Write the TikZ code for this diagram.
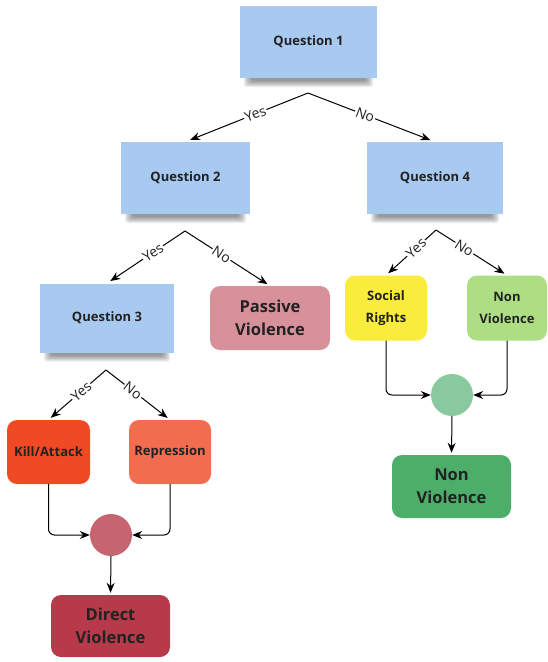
\documentclass[tikz,border=0pt]{standalone}
\usepackage{fontspec}
\setmainfont{Open Sans}
\usetikzlibrary{arrows.meta}
\pgfdeclarelayer{bg}
\pgfsetlayers{bg,main}
\definecolor{noteblue}{HTML}{A8CAF1}
\definecolor{txt}{HTML}{222222}
\definecolor{passive}{HTML}{D6919B}
\definecolor{social}{HTML}{F9EC3C}
\definecolor{nonv}{HTML}{AEDE84}
\definecolor{gcirc}{HTML}{88C99E}
\definecolor{nonvbig}{HTML}{4DAE6A}
\definecolor{kill}{HTML}{F04A25}
\definecolor{repr}{HTML}{F26C4F}
\definecolor{rcirc}{HTML}{C6646F}
\definecolor{direct}{HTML}{B63A49}
\tikzset{
  note/.style={rectangle, fill=noteblue, text=txt, font=\bfseries\fontsize{13}{16}\selectfont},
  notesh/.style={fill=black, opacity=0.07, rounded corners=3pt},
  rbox/.style={rectangle, rounded corners=10pt, text=txt, align=center},
  small/.style={font=\bfseries\fontsize{13}{22}\selectfont},
  big/.style={font=\bfseries\fontsize{16.5}{23}\selectfont},
  dot/.style={circle, minimum size=42pt, inner sep=0pt},
  arr/.style={draw=black, line width=1pt, -{Stealth[length=10pt,width=8pt]}},
  lbl/.style={sloped, fill=white, inner sep=1pt, text=txt, font=\fontsize{14}{16}\selectfont},
}
\newcommand{\mynoteshadow}[1]{%
  \begin{pgfonlayer}{bg}
  \foreach \k in {0,...,6}{
    \fill[notesh] ([xshift={(4+1.2*\k)*1pt}, yshift=4pt]#1.south west) rectangle ([xshift={-(4+1.2*\k)*1pt}, yshift={-(9-\k)*1pt}]#1.south east);
  }
  \end{pgfonlayer}}
\begin{document}
\begin{tikzpicture}[x=1pt,y=-1pt]
\useasboundingbox (0,0) rectangle (547,662);
% question notes
\node[note, minimum width=137pt, minimum height=72pt] (q1) at (308.5,42) {Question 1};
\node[note, minimum width=129pt, minimum height=72pt] (q2) at (185.5,178) {Question 2};
\node[note, minimum width=136pt, minimum height=72pt] (q4) at (435,178) {Question 4};
\node[note, minimum width=134pt, minimum height=69pt] (q3) at (107,318) {Question 3};
\mynoteshadow{q1}
\mynoteshadow{q2}
\mynoteshadow{q4}
\mynoteshadow{q3}
% outcome boxes
\node[rbox, big, fill=passive, minimum width=120pt, minimum height=64pt] (pv) at (270,318) {Passive\\Violence};
\node[rbox, small, fill=social, minimum width=82pt, minimum height=65pt] (sr) at (386,308) {Social\\Rights};
\node[rbox, small, fill=nonv, minimum width=80pt, minimum height=65pt] (nv) at (507,308) {Non\\Violence};
\node[rbox, small, fill=kill, minimum width=83pt, minimum height=64pt] (ka) at (48.5,452) {Kill/Attack};
\node[rbox, small, fill=repr, minimum width=82pt, minimum height=64pt] (re) at (170,452) {Repression};
\node[dot, fill=rcirc] (c1) at (111,535) {};
\node[dot, fill=gcirc] (c2) at (452,395) {};
\node[rbox, big, fill=direct, minimum width=119pt, minimum height=62pt] (dv) at (110.5,626) {Direct\\Violence};
\node[rbox, big, fill=nonvbig, minimum width=119pt, minimum height=63pt] (nvb) at (451.5,486.5) {Non\\Violence};
% fork points
\coordinate (a1) at (308,93);
\coordinate (a2) at (185,231);
\coordinate (a4) at (436,230);
\coordinate (a3) at (106,370);
% forks
\draw[arr, shorten >=5pt] (a1) -- node[lbl, pos=0.43]{Yes} (q2.north);
\draw[arr, shorten >=5pt] (a1) -- node[lbl, pos=0.45]{No} (q4.north);
\draw[arr, shorten >=4pt] (a2) -- node[lbl, pos=0.41]{Yes} (q3.north);
\draw[arr, shorten >=3pt] (a2) -- node[lbl, pos=0.43]{No} (pv.north);
\draw[arr, shorten >=3pt] (a4) -- node[lbl, pos=0.4]{Yes} (sr.north);
\draw[arr, shorten >=3pt] (a4) -- node[lbl, pos=0.4]{No} (nv.north);
\draw[arr, shorten >=3pt] (a3) -- node[lbl, pos=0.43]{Yes} (ka.north);
\draw[arr, shorten >=3pt] (a3) -- node[lbl, pos=0.42]{No} (re.north);
% merges
\draw[arr, rounded corners=6pt] (ka.south) |- (c1.west);
\draw[arr, rounded corners=6pt] (re.south) |- (c1.east);
\draw[arr, shorten >=2pt] (c1.south) -- (dv.north);
\draw[arr, rounded corners=6pt] (sr.south) |- (c2.west);
\draw[arr, rounded corners=6pt] (nv.south) |- (c2.east);
\draw[arr, shorten >=2pt] (c2.south) -- (nvb.north);
\end{tikzpicture}
\end{document}
